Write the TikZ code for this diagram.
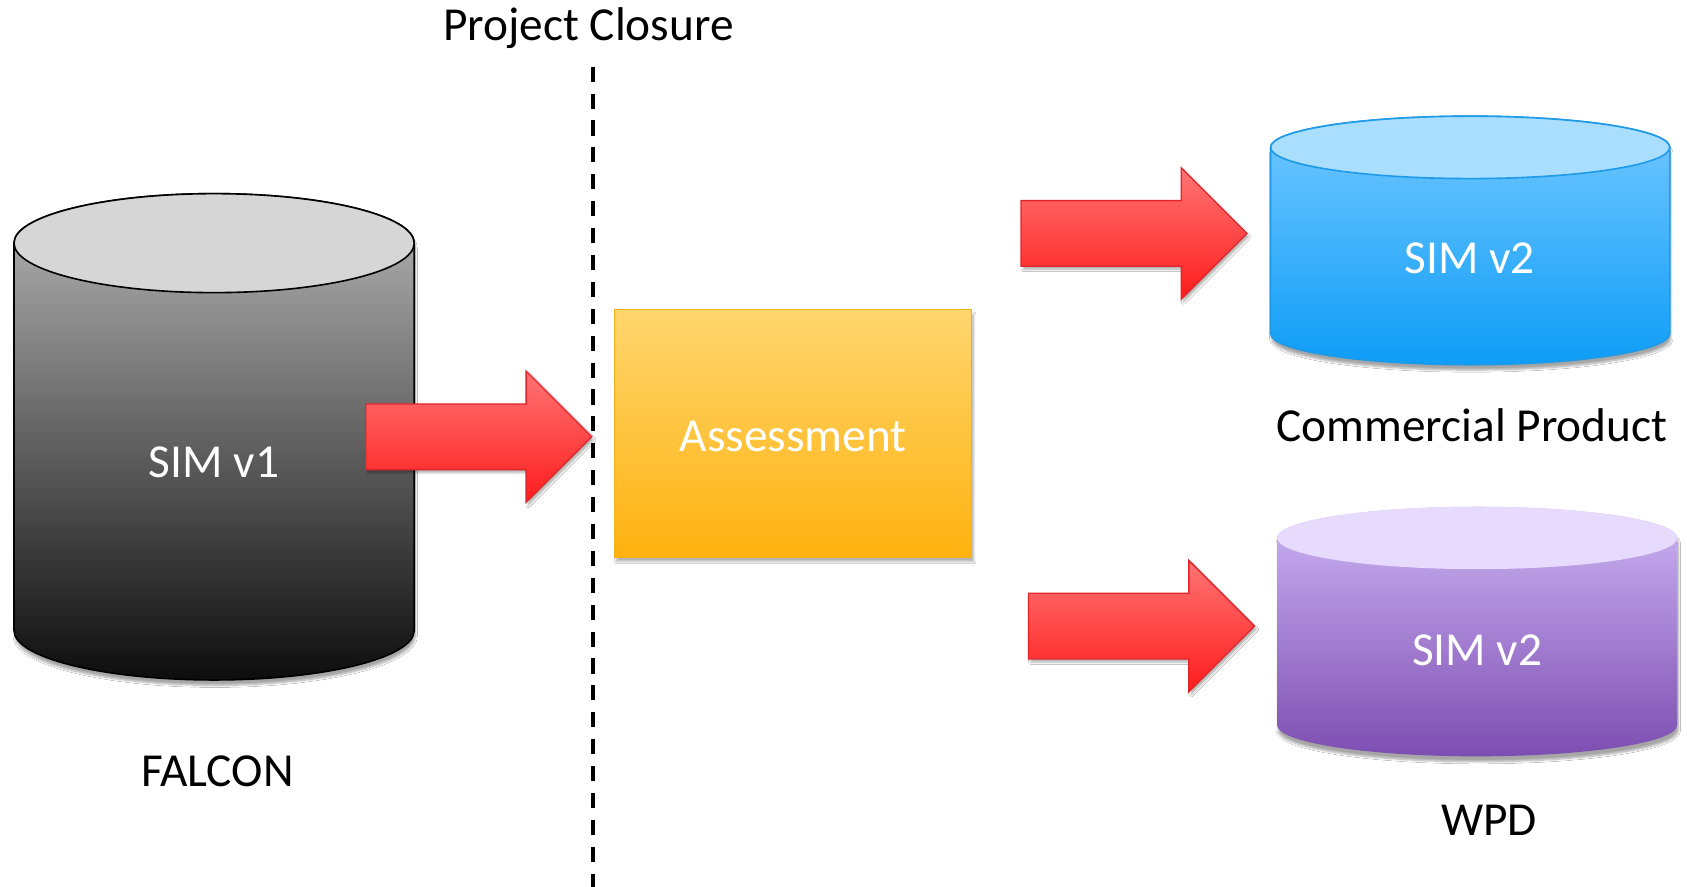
\documentclass[tikz,border=0pt]{standalone}
\usepackage{fontspec}
\setmainfont{Carlito}
\usetikzlibrary{shadows.blur}
\definecolor{arrtop}{HTML}{FF7474}
\definecolor{arrbot}{HTML}{FF1C1C}
\definecolor{arrline}{HTML}{E0262B}
\definecolor{boxtop}{HTML}{FFD66E}
\definecolor{boxbot}{HTML}{FFB20F}
\definecolor{boxline}{HTML}{F2B01A}
\definecolor{grtopend}{HTML}{D6D6D6}
\definecolor{grtop}{HTML}{B8B8B8}
\definecolor{grbot}{HTML}{0D0D0D}
\definecolor{blend}{HTML}{A9DEFF}
\definecolor{bltop}{HTML}{74C8FF}
\definecolor{blbot}{HTML}{0E9DF7}
\definecolor{blline}{HTML}{1E9AE6}
\definecolor{puend}{HTML}{E6DAFD}
\definecolor{putop}{HTML}{CDB5F5}
\definecolor{pubot}{HTML}{7D4EB1}
\newcommand\mycyl[9]{%
  \pgfmathsetmacro\myrx{(#2-#1)/2}%
  \pgfmathsetmacro\mycx{(#1+#2)/2}%
  \path[blur shadow={shadow xshift=1pt, shadow yshift=-5pt, shadow blur steps=8, shadow opacity=35},
        top color=#7, bottom color=#8, draw=#9, line width=1.5pt]
    (#1,#3) -- (#1,#4) arc[start angle=180, end angle=360, x radius=\myrx, y radius=#5]
    -- (#2,#3) arc[start angle=0, end angle=180, x radius=\myrx, y radius=#5] -- cycle;
  \path[fill=#6, draw=#9, line width=1.5pt] (\mycx,#3) ellipse[x radius=\myrx, y radius=#5];
}
\newcommand\barrow[3]{%
  \coordinate (#1) at (#2,#3);
  \path[arrowsty] (#2-210,#3-30.5) -- (#2-61,#3-30.5) -- (#2-61,#3-61) -- (#1)
    -- (#2-61,#3+61) -- (#2-61,#3+30.5) -- (#2-210,#3+30.5) -- cycle;
}
\tikzset{
  lbl/.style={font=\fontsize{44}{52}\selectfont, inner sep=0pt, anchor=base},
  arrowsty/.style={top color=arrtop, bottom color=arrbot, draw=arrline, line width=1.2pt,
    blur shadow={shadow xshift=2pt, shadow yshift=-3pt, shadow blur steps=6, shadow opacity=30}},
  closure/.style={dash pattern=on 14pt off 11pt, line width=3.7pt, black},
}
\begin{document}
\begin{tikzpicture}[x=1pt,y=1pt]
\useasboundingbox[fill=white] (0,0) rectangle (1568,824);
% title and dashed closure line
\node[lbl] (title) at (547,786) {Project Closure};
\coordinate (ltop) at (551,762);
\coordinate (lbot) at (551,0);
\draw[closure] (ltop) -- (lbot);
% SIM v1 cylinder
\mycyl{13}{385}{598}{238}{46}{grtopend}{grtop}{grbot}{black}
\node[lbl, white] (simv1) at (199,380) {SIM v1};
\node[lbl] (falcon) at (202,93) {FALCON};
% assessment box
\node[draw=boxline, line width=1.2pt, top color=boxtop, bottom color=boxbot,
      minimum width=332pt, minimum height=230pt, inner sep=0pt,
      blur shadow={shadow xshift=2pt, shadow yshift=-4pt, shadow blur steps=8, shadow opacity=30}]
      (assess) at (737,421) {};
\node[lbl, white] (assesstxt) at (737,404) {Assessment};
% commercial SIM v2
\mycyl{1181}{1552}{687}{514}{29}{blend}{bltop}{blbot}{blline}
\node[lbl, white] (simv2a) at (1366,570) {SIM v2};
\node[lbl] (comm) at (1368,414) {Commercial Product};
% WPD SIM v2
\mycyl{1187}{1559}{324}{150}{29}{puend}{putop}{pubot}{none}
\node[lbl, white] (simv2b) at (1373,205) {SIM v2};
\node[lbl] (wpd) at (1384,47) {WPD};
% block arrows
\barrow{tipA}{550}{418}
\barrow{tipB}{1159}{607}
\barrow{tipC}{1166}{242}
\end{tikzpicture}
\end{document}
